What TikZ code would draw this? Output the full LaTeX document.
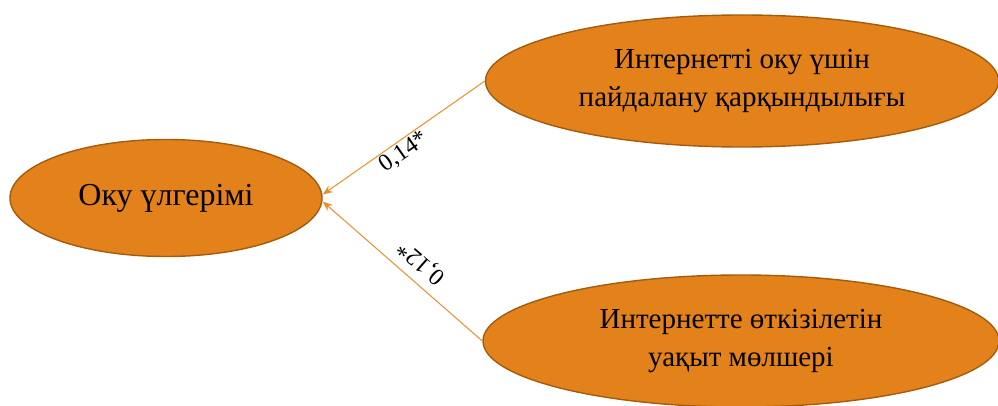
\documentclass[tikz,border=0pt]{standalone}
\usepackage{fontspec}
\setmainfont{Liberation Serif}
\usetikzlibrary{shapes.geometric,arrows.meta}
\definecolor{ellfill}{HTML}{E3821A}
\definecolor{elldraw}{HTML}{A35C0E}
\definecolor{arrcol}{HTML}{EB8E2A}
\tikzset{
  oval/.style={ellipse, draw=elldraw, fill=ellfill, line width=1.4pt, inner sep=0pt, align=center, text=black},
  conn/.style={draw=arrcol, line width=1pt, -{Stealth[length=10pt,width=8pt]}},
  coef/.style={font=\fontsize{24}{26}\selectfont, inner sep=0.5pt, text=black}
}
\begin{document}
\begin{tikzpicture}[x=1pt,y=1pt]
\useasboundingbox (0,0) rectangle (998,405);
\node[oval, minimum width=312pt, minimum height=117pt, font=\fontsize{32}{38}\selectfont] (L) at (166,207) {Оку үлгерімі};
\node[oval, minimum width=513pt, minimum height=132pt, font=\fontsize{29}{38}\selectfont] (T) at (742,324) {Интернетті оку үшін\\пайдалану қарқындылығы};
\node[oval, minimum width=516pt, minimum height=132pt, font=\fontsize{29}{38}\selectfont] (B) at (741,64) {Интернетте өткізілетін\\уақыт мөлшері};
\coordinate (tA) at ([yshift=3.5pt]L.east);
\coordinate (tB) at ([yshift=-3.5pt]L.east);
\draw[conn] (T.west) -- node[coef, pos=0.54, sloped, below=1pt] {0,14*} (tA);
\draw[conn] (B.west) -- node[coef, pos=0.46, sloped, allow upside down, below=9pt] {0,12*} (tB);
\end{tikzpicture}
\end{document}
